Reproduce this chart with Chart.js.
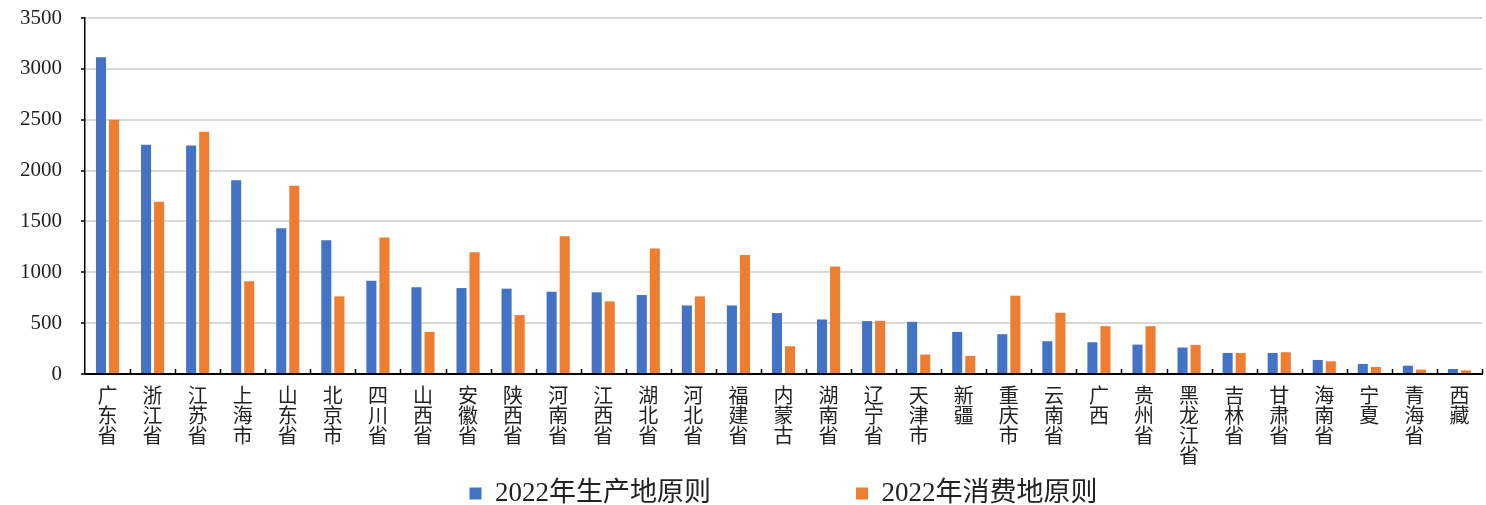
<!DOCTYPE html>
<html>
<head>
<meta charset="utf-8">
<script src="https://cdn.jsdelivr.net/npm/chart.js@4/dist/chart.umd.min.js"></script>
<style>
  html, body { margin: 0; padding: 0; background: #ffffff; }
  #wrap { width: 1486px; height: 505px; position: relative; }
</style>
</head>
<body>
<div id="wrap"><canvas id="c" width="1486" height="505"></canvas></div>
<script>
// 各省份 2022 年碳排放核算：生产地原则 vs 消费地原则
const provinces = ['广东省','浙江省','江苏省','上海市','山东省','北京市','四川省','山西省','安徽省','陕西省',
  '河南省','江西省','湖北省','河北省','福建省','内蒙古','湖南省','辽宁省','天津市','新疆',
  '重庆市','云南省','广西','贵州省','黑龙江省','吉林省','甘肃省','海南省','宁夏','青海省','西藏'];
const production = [3115, 2253, 2246, 1904, 1434, 1316, 918, 852, 845, 839,
  809, 803, 776, 674, 674, 599, 536, 520, 513, 414,
  391, 322, 312, 289, 260, 207, 207, 138, 99, 82, 49];
const consumption = [2500, 1694, 2381, 911, 1852, 763, 1342, 414, 1197, 579,
  1355, 714, 1233, 763, 1171, 273, 1056, 523, 191, 178,
  770, 602, 470, 470, 286, 207, 214, 125, 69, 43, 36];
const seriesNames = ['2022年生产地原则', '2022年消费地原则'];
const yTicks = [0, 500, 1000, 1500, 2000, 2500, 3000, 3500];

const FONT = '"Liberation Serif", "Noto Sans CJK SC", serif';

// short category ticks along the bottom axis, pointing up into the plot
const innerTicks = {
  id: 'innerTicks',
  afterDatasetsDraw(chart) {
    const x = chart.scales.x, y = chart.scales.y;
    const ctx = chart.ctx;
    const n = chart.data.labels.length;
    const step = (x.right - x.left) / n;
    ctx.save();
    ctx.strokeStyle = '#000';
    ctx.lineWidth = 1.5;
    ctx.beginPath();
    for (let i = 1; i <= n; i++) {
      const px = Math.round(x.getPixelForValue(i - 1) + step / 2) + 0.5;
      ctx.moveTo(px, y.bottom);
      ctx.lineTo(px, y.bottom - 5);
    }
    ctx.stroke();
    ctx.restore();
  }
};

new Chart(document.getElementById('c'), {
  type: 'bar',
  data: {
    labels: provinces.map(p => p.split('')),
    datasets: [
      { label: seriesNames[0], data: production, backgroundColor: '#4472C4',
        categoryPercentage: 0.58, barPercentage: 0.77 },
      { label: seriesNames[1], data: consumption, backgroundColor: '#ED7D31',
        categoryPercentage: 0.58, barPercentage: 0.77 }
    ]
  },
  options: {
    responsive: false,
    animation: false,
    devicePixelRatio: 1,
    layout: { padding: { left: 0, right: 4, top: 18, bottom: -12 } },
    plugins: {
      tooltip: { enabled: false },
      legend: {
        position: 'bottom',
        fullSize: false,
        labels: {
          color: '#222',
          font: { family: FONT, size: 27 },
          boxWidth: 12, boxHeight: 12,
          padding: 10,
          generateLabels(chart) {
            const items = Chart.defaults.plugins.legend.labels.generateLabels(chart);
            // widen the gap between the two legend entries
            if (items.length) items[0].text += '\u3000\u3000\u3000\u3000\u3000';
            return items;
          }
        }
      }
    },
    scales: {
      x: {
        grid: { display: false, drawTicks: false },
        border: { display: true, color: '#000', width: 2 },
        ticks: {
          autoSkip: false, maxRotation: 0, minRotation: 0,
          color: '#222', padding: 14,
          font: { family: FONT, size: 20, lineHeight: 1.0 }
        },
        afterFit(scale) { scale.height = 96; }
      },
      y: {
        min: 0, max: 3500,
        afterBuildTicks(scale) { scale.ticks = yTicks.map(v => ({ value: v })); },
        grid: { color: '#d9d9d9', lineWidth: 2, drawTicks: true, tickLength: 4, tickColor: '#000', tickWidth: 1.5 },
        border: { display: true, color: '#000', width: 1.5 },
        ticks: {
          color: '#222', padding: 19,
          font: { family: FONT, size: 21, lineHeight: 1.0 },
          callback: v => String(v)
        },
        afterFit(scale) { scale.width = 85; scale.paddingTop = 0; }
      }
    }
  },
  plugins: [innerTicks]
});
</script>
</body>
</html>
